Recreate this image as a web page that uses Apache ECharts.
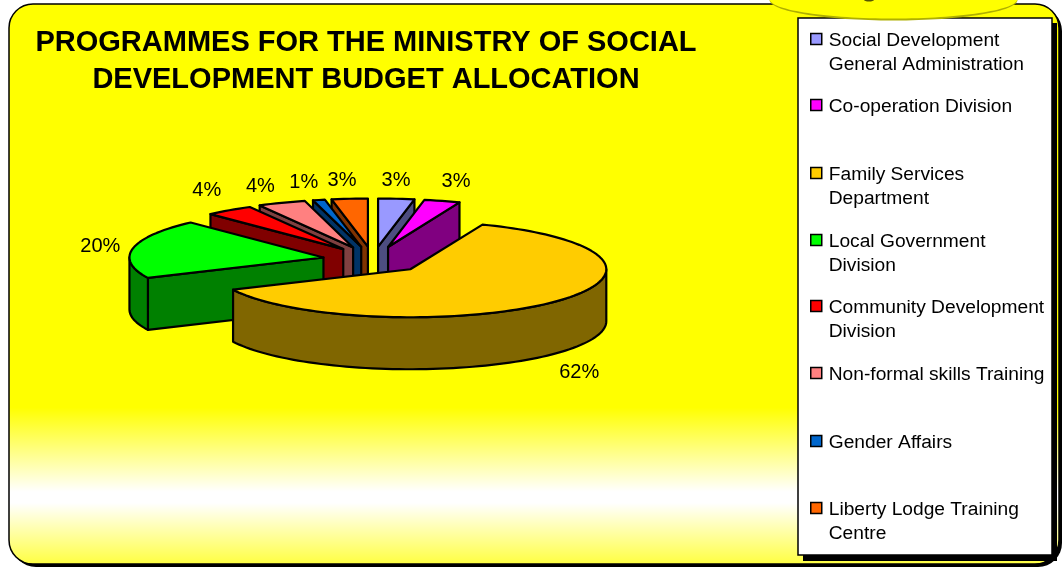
<!DOCTYPE html>
<html>
<head>
<meta charset="utf-8">
<style>html,body{margin:0;padding:0;background:#fff}#chart{width:1064px;height:568px}</style>
<script src="https://cdn.jsdelivr.net/npm/echarts@6/dist/echarts.min.js"></script>
</head>
<body>
<div id="chart"></div>
<script>
// Budget shares in percent, clockwise from twelve o'clock.
const categories = [
  'Social Development\nGeneral Administration',
  'Co-operation Division',
  'Family Services\nDepartment',
  'Local Government\nDivision',
  'Community Development\nDivision',
  'Non-formal skills Training',
  'Gender Affairs',
  'Liberty Lodge Training\nCentre'
];
const shares = [3, 3, 62, 20, 4, 4, 1, 3];
const colors = ['#9999FF', '#FF00FF', '#FFCC00', '#00FF00', '#FF0000', '#FF8080', '#0066CC', '#FF6600'];
const titleText = 'PROGRAMMES FOR THE MINISTRY OF SOCIAL\nDEVELOPMENT BUDGET ALLOCATION';

// Projection of the tilted, exploded pie.
const pie = { cx: 373, cy: 260, rx: 194, ry: 48, explodeX: 54, explodeY: 13.5, depth: 52 };
// Horizontal correction of each slice's explosion offset, and its rim stretch.
const explodeTrim = [0, 0, -2, 3.5, 2, 0, 0, 0];
const rimStretch = [1, 1, 1.01, 1, 1, 1, 1, 1];
// Legend rows: vertical centre of each swatch.
const legendRows = [39, 105, 173, 240, 306, 373, 441, 508];
const LEGEND_LINE = 24.5;
const TEXT_DROP = 1.5;
// Small offsets that keep the percent labels clear of the slices.
const labelShift = [[-3, 2], [6, 0], [7, 5], [-5, 2], [-6, -4], [-11, 2], [-9, 2], [-5, 2]];

const total = shares.reduce((a, b) => a + b, 0);
const toRad = d => d * Math.PI / 180;
function shade(hex) {
  const n = parseInt(hex.slice(1), 16);
  const half = v => Math.round(v / 2);
  return `rgb(${half(n >> 16 & 255)},${half(n >> 8 & 255)},${half(n & 255)})`;
}

// Angular span of each slice in degrees.
let running = 0;
const spans = shares.map(v => {
  const start = running / total * 360;
  running += v;
  return { start, end: running / total * 360, mid: (running - v / 2) / total * 360 };
});

function sliceRenderer(index) {
  return function (params, api) {
    const value = api.value(0);
    const { start, end, mid } = spans[index];
    const ax = pie.cx + pie.explodeX * Math.sin(toRad(mid)) + explodeTrim[index];
    const ay = pie.cy - pie.explodeY * Math.cos(toRad(mid));
    const rx = pie.rx * rimStretch[index];
    const rim = a => [ax + rx * Math.sin(toRad(a)), ay - pie.ry * Math.cos(toRad(a))];
    const drop = p => [p[0], p[1] + pie.depth];
    const arc = (a, b) => {
      const pts = [];
      const n = Math.max(2, Math.ceil((b - a) / 2));
      for (let i = 0; i <= n; i++) pts.push(rim(a + (b - a) * i / n));
      return pts;
    };
    const fill = colors[index];
    const dark = shade(fill);
    const line = { stroke: '#000', lineWidth: 2.2, lineJoin: 'round' };
    const face = (points, color) => ({
      type: 'polygon', shape: { points }, style: Object.assign({ fill: color }, line)
    });
    const children = [];
    const apex = [ax, ay];
    // Cut faces that turn toward the viewer.
    if (Math.sin(toRad(start)) < 0) {
      const c = rim(start);
      children.push(face([apex, c, drop(c), drop(apex)], dark));
    }
    if (Math.sin(toRad(end)) > 0) {
      const c = rim(end);
      children.push(face([apex, c, drop(c), drop(apex)], dark));
    }
    // Front half of the curved rim.
    const a0 = Math.max(start, 90), b0 = Math.min(end, 270);
    if (b0 > a0) {
      const top = arc(a0, b0);
      children.push(face(top.concat(top.map(drop).reverse()), dark));
    }
    // Top face.
    children.push(face([apex].concat(arc(start, end)), fill));
    // Percent label beyond the rim.
    const s = Math.sin(toRad(mid)), co = Math.cos(toRad(mid));
    const lx = ax + (pie.rx + 28) * s + labelShift[index][0];
    const ly = ay - (pie.ry + 20) * co + (co < 0 ? pie.depth : 0) + labelShift[index][1];
    children.push({
      type: 'text',
      style: {
        text: Math.round(value / total * 100) + '%',
        x: lx, y: ly, fill: '#000', align: 'center', verticalAlign: 'middle',
        font: '20px "Liberation Sans", Arial, sans-serif'
      }
    });
    return { type: 'group', children };
  };
}

// Paint back slices first so nearer ones overlap them.
const paintOrder = shares.map((_, i) => i)
  .sort((p, q) => Math.cos(toRad(spans[q].mid)) - Math.cos(toRad(spans[p].mid)));

const series = paintOrder.map(i => ({
  type: 'custom',
  name: categories[i],
  coordinateSystem: 'none',
  silent: true,
  clip: false,
  animation: false,
  itemStyle: { color: colors[i] },
  renderItem: sliceRenderer(i),
  data: [[shares[i]]]
}));

const legends = categories.map((name, i) => {
  const twoLines = name.includes('\n');
  return {
    left: 810,
    top: legendRows[i] + TEXT_DROP - (twoLines ? 1.5 : 0.5) * LEGEND_LINE,
    padding: 0,
    itemWidth: 11,
    itemHeight: 11 + 2 * TEXT_DROP,
    itemGap: 0,
    selectedMode: false,
    // Swatch sits in the upper part of its box; the trailing move only widens the box.
    icon: 'path://M0 0H11V11H0ZM0 14',
    // A blank first line keeps the swatch level with the first text line.
    formatter: n => (n.includes('\n') ? '\n' + n : n),
    data: [{ name, itemStyle: { color: colors[i], borderColor: '#000', borderWidth: 1.5 } }],
    textStyle: {
      color: '#000',
      fontSize: 19.2,
      fontFamily: '"Liberation Sans", Arial, sans-serif',
      lineHeight: LEGEND_LINE,
      padding: [0, 0, 0, 2]
    }
  };
});

const chart = echarts.init(document.getElementById('chart'), null, { renderer: 'canvas' });
chart.setOption({
  animation: false,
  backgroundColor: '#fff',
  title: {
    text: titleText,
    left: 366,
    top: 24,
    textAlign: 'center',
    padding: 0,
    textStyle: {
      color: '#000', fontSize: 29, fontWeight: 'bold', lineHeight: 37,
      fontFamily: '"Liberation Sans", Arial, sans-serif'
    }
  },
  legend: legends,
  graphic: [
    // Panel shadow and gradient panel.
    { type: 'rect', z: -3, silent: true, shape: { x: 12, y: 7, width: 1050, height: 560, r: 24 }, style: { fill: '#000' } },
    {
      type: 'rect', z: -2, silent: true,
      shape: { x: 9, y: 4, width: 1050, height: 560, r: 24 },
      style: {
        stroke: '#000', lineWidth: 1.5,
        fill: new echarts.graphic.LinearGradient(0, 0, 0, 1, [
          { offset: 0, color: '#FFFF00' },
          { offset: 0.72, color: '#FFFF00' },
          { offset: 0.87, color: '#FFFFFF' },
          { offset: 0.89, color: '#FFFFFF' },
          { offset: 1, color: '#FFFF40' }
        ])
      }
    },
    // Legend frame with its drop shadow.
    { type: 'rect', z: -1, silent: true, shape: { x: 803, y: 23, width: 254, height: 538 }, style: { fill: '#000' } },
    { type: 'rect', z: -1, silent: true, shape: { x: 798, y: 18, width: 254, height: 537 }, style: { fill: '#fff', stroke: '#000', lineWidth: 1.5 } },
    // Yellow ellipse overlapping the top edge.
    { type: 'ellipse', z: 9, silent: true, shape: { cx: 893.5, cy: 0, rx: 124, ry: 20.5 }, style: { fill: '#AFAF00' } },
    { type: 'ellipse', z: 9, silent: true, shape: { cx: 893.5, cy: -1, rx: 124, ry: 19.5 }, style: { fill: '#FFFF00' } },
    { type: 'ellipse', z: 9, silent: true, shape: { cx: 869, cy: 0, rx: 5, ry: 1.5 }, style: { fill: '#555500' } }
  ],
  series
});
</script>
</body>
</html>
